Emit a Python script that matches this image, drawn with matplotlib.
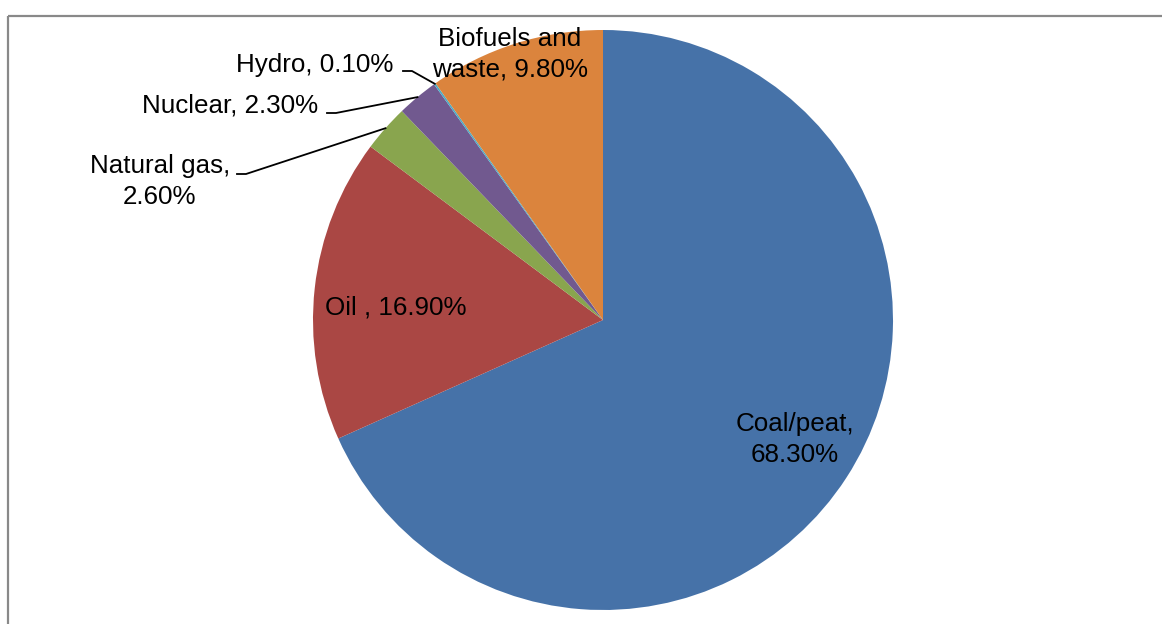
import numpy as np
import matplotlib
matplotlib.use("Agg")
import matplotlib.pyplot as plt

categories = ["Coal/peat", "Oil ", "Natural gas", "Nuclear", "Hydro", "Biofuels and waste"]
values = [68.30, 16.90, 2.60, 2.30, 0.10, 9.80]
colors = ["#4672A8", "#AA4744", "#89A54E", "#71598F", "#4BACC6", "#DB843D"]

W, H = 1162, 624
plt.rcParams['font.family'] = ['Liberation Sans', 'DejaVu Sans']
fig = plt.figure(figsize=(W / 100, H / 100), dpi=100)
ax = fig.add_axes([0, 0, 1, 1])

def Y(y):
    return H - y

cx, cy, R = 603, 320, 290
wedges, _ = ax.pie(values, startangle=90, counterclock=False, colors=colors,
                   center=(cx, Y(cy)), radius=R,
                   wedgeprops=dict(linewidth=0))
ax.set_xlim(0, W)
ax.set_ylim(0, H)
ax.set_aspect('equal')
ax.axis('off')

# frame
ax.plot([7.5, 7.5], [0, Y(15.5)], color="#898989", lw=1.6, solid_capstyle='butt')
ax.plot([7.5, W], [Y(15.5), Y(15.5)], color="#898989", lw=1.6, solid_capstyle='butt')

labels = [f"{c.strip() if i != 1 else c}, {v:.2f}%" for i, (c, v) in enumerate(zip(categories, values))]
label_lines = [
    ["Coal/peat,", "68.30%"],
    ["Oil , 16.90%"],
    ["Natural gas,", "2.60%"],
    ["Nuclear, 2.30%"],
    ["Hydro, 0.10%"],
    ["Biofuels and", "waste, 9.80%"],
]
# (x, first baseline y, ha)
label_pos = [
    (795, 431, 'center'),
    (396, 315, 'center'),
    (160, 173, 'center'),
    (318, 113, 'right'),
    (393, 72, 'right'),
    (510, 46, 'center'),
]
fs = 18.7
for lines, (x, y, ha) in zip(label_lines, label_pos):
    for k, line in enumerate(lines):
        ax.text(x, Y(y + 31 * k), line, ha=ha, va='baseline', fontsize=fs, color='black')

# leader lines for small slices
leaders = {2: (237, 174), 3: (327, 113), 4: (403, 71)}
for idx, (sx, sy) in leaders.items():
    w = wedges[idx]
    ang = np.deg2rad((w.theta1 + w.theta2) / 2)
    ex = cx + R * np.cos(ang)
    ey = Y(cy) + R * np.sin(ang)
    ax.plot([sx, sx + 9, ex], [Y(sy), Y(sy), ey], color='black', lw=1.3)

fig.savefig("out.png", dpi=100)
